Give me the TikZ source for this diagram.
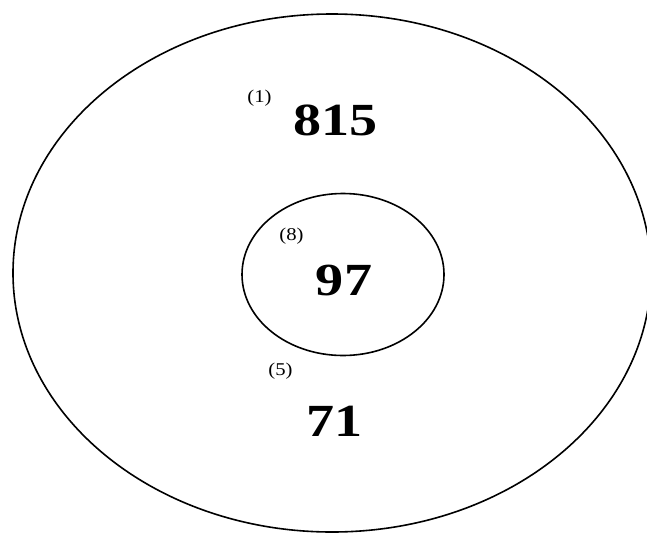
\documentclass[tikz,border=0pt]{standalone}
\usepackage{fontspec}
\setmainfont{Liberation Serif}
\begin{document}
\begin{tikzpicture}[x=1pt,y=-1pt,
	count/.style={font=\fontsize{46}{50}\selectfont\bfseries, xscale=1.22, inner sep=0pt},
	tag/.style={font=\fontsize{18}{20}\selectfont, xscale=1.15, inner sep=0pt}]
	\useasboundingbox[fill=white] (0,0) rectangle (647,533);
	\draw[line width=1.6pt] (332,273) ellipse[x radius=319, y radius=259];
	\draw[line width=1.6pt] (343,274.5) ellipse[x radius=101, y radius=81];
	\node[tag] (tagall) at (259.5,98.5) {(1)};
	\node[count] (all) at (335.5,120) {815};
	\node[tag] (taginner) at (291.5,236.5) {(8)};
	\node[count] (inner) at (344,280.5) {97};
	\node[tag] (tagrest) at (280.5,371.5) {(5)};
	\node[count] (rest) at (334.5,421) {71};
\end{tikzpicture}
\end{document}
